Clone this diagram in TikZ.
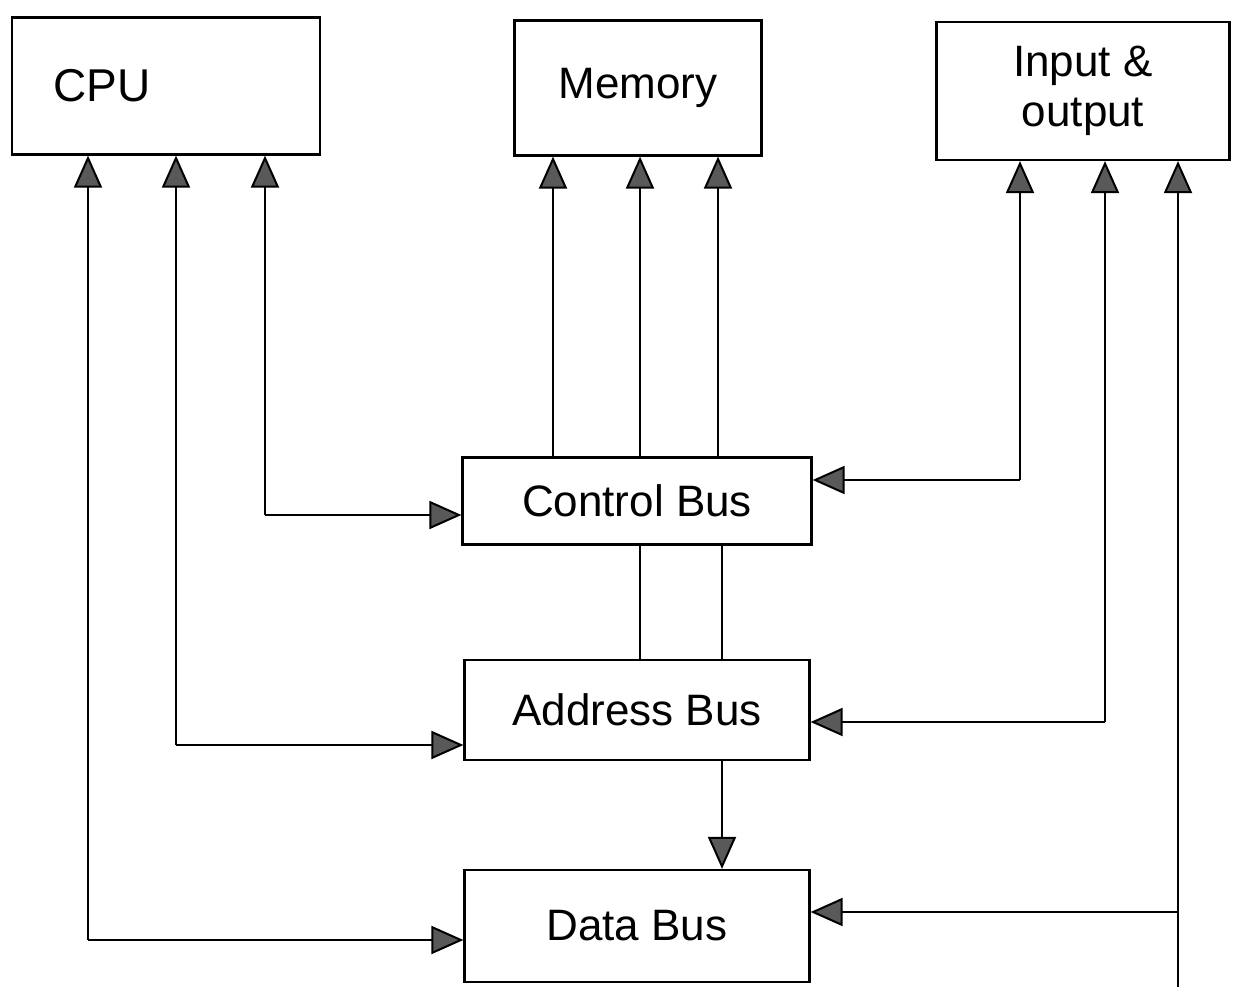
\documentclass[tikz,border=0pt]{standalone}
\usepackage{fontspec}
\setmainfont{Liberation Sans}
\usetikzlibrary{arrows.meta}
\begin{document}
\begin{tikzpicture}[x=1pt,y=-1pt,
  box/.style={draw,line width=2.2pt,inner sep=0pt,font=\fontsize{44}{50}\selectfont},
  ln/.style={line width=2pt},
  arr/.style={line width=2pt,-{Triangle[width=28pt,length=32pt,fill=black!65,line width=2pt]}}]
\useasboundingbox (0,0) rectangle (1247,987);
\fill[white] (0,0) rectangle (1247,987);
% boxes
\node[box,minimum width=308pt,minimum height=137pt] (cpu) at (166,86) {};
\node[font=\fontsize{46}{50}\selectfont,anchor=west] at (50,86) {CPU};
\node[box,minimum width=247pt,minimum height=135pt] (mem) at (638,88) {Memory};
\node[box,minimum width=293pt,minimum height=138pt,align=center] (io) at (1083,91) {Input \&\\output};
\node[box,minimum width=349pt,minimum height=87pt] (ctl) at (637,501) {Control Bus};
\node[box,minimum width=345pt,minimum height=100pt] (adr) at (637,710) {Address Bus};
\node[box,minimum width=345pt,minimum height=112pt] (dat) at (637,926) {Data Bus};
% CPU connectors
\coordinate (c1) at (88,940);
\coordinate (c2) at (176,745);
\coordinate (c3) at (265,515);
\draw[arr] (c1) -- (c1 |- cpu.south);
\draw[arr] (c1) -- (c1 -| dat.west);
\draw[arr] (c2) -- (c2 |- cpu.south);
\draw[arr] (c2) -- (c2 -| adr.west);
\draw[arr] (c3) -- (c3 |- cpu.south);
\draw[arr] (c3) -- (c3 -| ctl.west);
% Memory connectors
\coordinate (m1) at (553,0);
\coordinate (m2) at (640,0);
\coordinate (m3) at (718,0);
\draw[arr] (m1 |- ctl.north) -- (m1 |- mem.south);
\draw[arr] (m2 |- ctl.north) -- (m2 |- mem.south);
\draw[arr] (m3 |- ctl.north) -- (m3 |- mem.south);
\coordinate (b1) at (640,0);
\coordinate (b2) at (722,0);
\draw[ln] (b1 |- ctl.south) -- (b1 |- adr.north);
\draw[ln] (b2 |- ctl.south) -- (b2 |- adr.north);
\draw[arr] (b2 |- adr.south) -- (b2 |- dat.north);
% I/O connectors
\coordinate (i1) at (1020,480);
\coordinate (i2) at (1105,722);
\coordinate (i3) at (1178,912);
\coordinate (i3e) at (1178,987);
\draw[arr] (i1) -- (i1 |- io.south);
\draw[arr] (i1) -- (i1 -| ctl.east);
\draw[arr] (i2) -- (i2 |- io.south);
\draw[arr] (i2) -- (i2 -| adr.east);
\draw[arr] (i3e) -- (i3e |- io.south);
\draw[arr] (i3) -- (i3 -| dat.east);
\end{tikzpicture}
\end{document}
